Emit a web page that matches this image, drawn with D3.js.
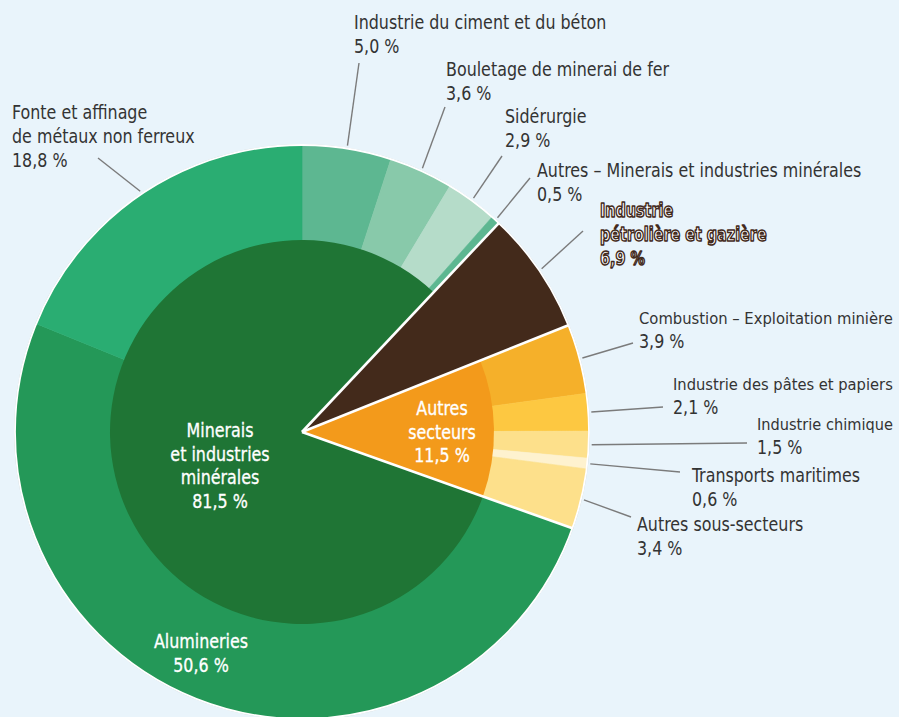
<!DOCTYPE html>
<html lang="fr">
<head>
<meta charset="UTF-8">
<title>Consommation d'énergie par secteur</title>
<script src="https://d3js.org/d3.v7.min.js"></script>
<style>
  body { margin: 0; background: #e9f4fb; }
  svg { display: block; }
  text { font-family: "DejaVu Sans Condensed", "DejaVu Sans", sans-serif; }
</style>
</head>
<body>
<div id="chart"></div>
<script>
// sous-secteurs, dans l'ordre horaire depuis midi
var subNames = [
  "Industrie du ciment et du béton", "Bouletage de minerai de fer", "Sidérurgie",
  "Autres – Minerais et industries minérales", "Industrie pétrolière et gazière",
  "Combustion – Exploitation minière", "Industrie des pâtes et papiers", "Industrie chimique",
  "Transports maritimes", "Autres sous-secteurs", "Alumineries",
  "Fonte et affinage de métaux non ferreux"
];
var subValues = [5.0, 3.6, 2.9, 0.5, 6.9, 3.9, 2.1, 1.5, 0.6, 3.4, 50.6, 18.8];
var subGroup  = ["min", "min", "min", "min", "oil", "oth", "oth", "oth", "oth", "oth", "min", "min"];
var subColors = ["#5db791", "#88c9aa", "#b5dcc9", "#5db791", "#432a1b", "#f5b02a", "#fdc841",
                 "#fde08b", "#fef2cf", "#fde08b", "#249858", "#2aad72"];

// secteurs (anneau intérieur), dans l'ordre à partir du pétrole
var groupKeys   = ["oil", "oth", "min"];
var groupNames  = ["Industrie pétrolière et gazière", "Autres secteurs", "Minerais et industries minérales"];
var groupValues = [6.9, 11.5, 81.5];
var groupColors = ["#432a1b", "#f39a1b", "#1f7535"];

var fmt = function(v) { return d3.format(".1f")(v).replace(".", ",") + " %"; };

var W = 899, H = 717, cx = 302, cy = 432, R = 287, r0 = 192;
var squeeze = 0.93, fs = 19;

var svg = d3.select("#chart").append("svg").attr("width", W).attr("height", H);
svg.append("rect").attr("width", W).attr("height", H).attr("fill", "#e9f4fb");
var g = svg.append("g").attr("transform", "translate(" + cx + "," + cy + ")");

var outer = d3.pie().sort(null).value(d => d)(subValues);
var arcOuter = d3.arc().innerRadius(0).outerRadius(R);

g.selectAll("path.sub").data(outer).enter().append("path")
  .attr("class", "sub")
  .attr("d", arcOuter)
  .attr("fill", (d, i) => subColors[i])
  .attr("stroke", (d, i) => subColors[i])
  .attr("stroke-width", 0.6);

// anneau intérieur : commence là où commence le pétrole
var a0 = outer[subGroup.indexOf("oil")].startAngle;
var inner = d3.pie().sort(null).value(d => d).startAngle(a0).endAngle(a0 + 2 * Math.PI)(groupValues);
var arcInner = d3.arc().innerRadius(0).outerRadius(r0);

g.selectAll("path.grp").data(inner.filter((d, i) => groupKeys[i] !== "oil")).enter().append("path")
  .attr("class", "grp")
  .attr("d", arcInner)
  .attr("fill", d => groupColors[d.index]);

// bordure extérieure blanche
g.append("circle").attr("r", R + 0.5).attr("fill", "none")
  .attr("stroke", "#c9d3d8").attr("stroke-width", 1);
g.append("circle").attr("r", R).attr("fill", "none")
  .attr("stroke", "#fff").attr("stroke-width", 1.8);

// séparateurs blancs entre secteurs
inner.forEach(function(d) {
  var a = d.startAngle;
  g.append("line")
    .attr("x1", 0).attr("y1", 0)
    .attr("x2", R * Math.sin(a)).attr("y2", -R * Math.cos(a))
    .attr("stroke", "#fff").attr("stroke-width", 2.6);
});

// étiquettes extérieures : x, ligne de base, extrémité du trait
var labelPos = [
  { x: 354, y: 29,  ex: 359, ey: 63 },
  { x: 446, y: 76,  ex: 445, ey: 107 },
  { x: 505, y: 123, ex: 502, ey: 156 },
  { x: 537, y: 177, ex: 530, ey: 178 },
  { x: 600, y: 217, ex: 583, ey: 231 },
  { x: 639, y: 324, ex: 633, ey: 343 },
  { x: 673, y: 390, ex: 663, ey: 407 },
  { x: 757, y: 430, ex: 747, ey: 443 },
  { x: 692, y: 482, ex: 680, ey: 472 },
  { x: 637, y: 531, ex: 631, ey: 517 },
  null,
  { x: 12,  y: 119, ex: 98,  ey: 158 }
];
var labelLines = [
  null, null, null, null,
  ["Industrie", "pétrolière et gazière"],
  null, null, null, null, null, null,
  ["Fonte et affinage", "de métaux non ferreux"]
];

// resserre chaque ligne (police étroite) ; réduit la taille si elle dépasserait le bord droit
function narrow(ts, x, sx) {
  var L = ts.node().getComputedTextLength();
  var room = W - 6 - x;
  if (x > 0 && L * sx > room) {
    ts.style("font-size", (fs * room / L) + "px");
  } else {
    ts.attr("textLength", L * sx).attr("lengthAdjust", "spacingAndGlyphs");
  }
}

outer.forEach(function(d, i) {
  var p = labelPos[i];
  if (!p) return;
  var mid = (d.startAngle + d.endAngle) / 2, rs = R + 3;
  svg.append("line")
    .attr("x1", cx + rs * Math.sin(mid)).attr("y1", cy - rs * Math.cos(mid))
    .attr("x2", p.ex).attr("y2", p.ey)
    .attr("stroke", "#7b7b7b").attr("stroke-width", 1.4);

  var lines = (labelLines[i] || [subNames[i]]).concat([fmt(subValues[i])]);
  var isOil = subGroup[i] === "oil";
  var t = svg.append("text").attr("x", p.x).attr("y", p.y)
    .style("font-size", fs + "px")
    .attr("fill", isOil ? "#fff" : "#333");
  if (isOil) {
    t.style("font-weight", "bold").attr("stroke", "#432a1b").attr("stroke-width", 1.5)
      .attr("paint-order", "fill").attr("stroke-linejoin", "round");
  }
  lines.forEach(function(s, k) {
    var ts = t.append("tspan").attr("x", p.x).attr("dy", k ? 24 : 0).text(s);
    narrow(ts, p.x, isOil ? 0.84 : squeeze);
  });
});

// étiquettes intérieures (blanches)
var innerLabels = [
  { lines: ["Minerais", "et industries", "minérales", fmt(groupValues[2])], x: 220, y: 437 },
  { lines: ["Autres", "secteurs", fmt(groupValues[1])], x: 442, y: 415 },
  { lines: ["Alumineries", fmt(subValues[10])], x: 201, y: 648 }
];
innerLabels.forEach(function(l) {
  var t = svg.append("text").attr("x", l.x).attr("y", l.y)
    .attr("text-anchor", "middle").attr("fill", "#fff")
    .attr("stroke", "#fff").attr("stroke-width", 0.3)
    .style("font-size", fs + "px");
  l.lines.forEach(function(s, k) {
    var ts = t.append("tspan").attr("x", l.x).attr("dy", k ? 23.7 : 0).text(s);
    narrow(ts, 0, squeeze);
  });
});
</script>
</body>
</html>
